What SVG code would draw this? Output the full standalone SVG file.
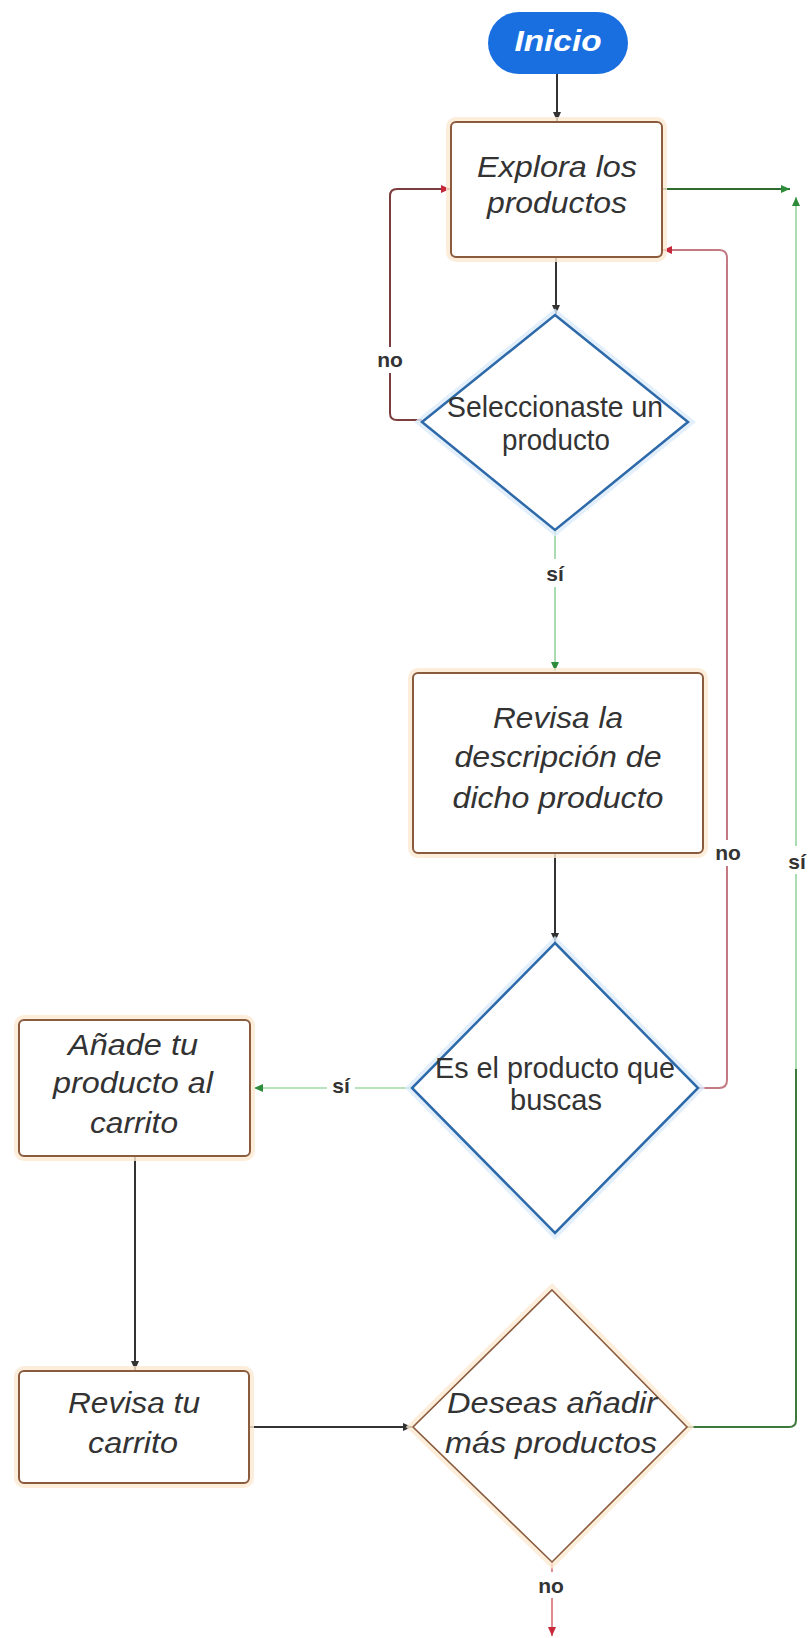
<svg xmlns="http://www.w3.org/2000/svg" width="811" height="1638" viewBox="0 0 811 1638">
  <style>
    .box{fill:#ffffff;stroke:#8a5b3d;stroke-width:2}
    .halo-o{fill:none;stroke:#fde9d2;stroke-width:10;opacity:.8}
    .halo-b{fill:none;stroke:#dcecfb;stroke-width:10;opacity:.8}
    .dia-b{fill:#ffffff;stroke:#2e6aa9;stroke-width:2.5}
    .dia-o{fill:#ffffff;stroke:#8a5b3d;stroke-width:1.6}
    .t{font-family:"Liberation Sans",Arial,sans-serif;font-size:29px;fill:#333333;text-anchor:middle}
    .ti{font-style:italic}
    .lbl{font-family:"Liberation Sans",Arial,sans-serif;font-size:21px;font-weight:bold;fill:#333333;text-anchor:middle}
    .c{fill:none;stroke-width:2}
    .dark{stroke:#333333}
  </style>
  <defs>
    <marker id="mk-dark" markerUnits="userSpaceOnUse" markerWidth="10" markerHeight="10" refX="9" refY="5" orient="auto">
      <path d="M0,1 L9,5 L0,9 z" fill="#333333"/>
    </marker>
    <marker id="mk-red" markerUnits="userSpaceOnUse" markerWidth="10" markerHeight="10" refX="9" refY="5" orient="auto">
      <path d="M0,1 L9,5 L0,9 z" fill="#c62839"/>
    </marker>
    <marker id="mk-green" markerUnits="userSpaceOnUse" markerWidth="10" markerHeight="10" refX="9" refY="5" orient="auto">
      <path d="M0,1 L9,5 L0,9 z" fill="#2e8b3a"/>
    </marker>
    <linearGradient id="g-si" gradientUnits="userSpaceOnUse" x1="0" y1="200" x2="0" y2="1430">
      <stop offset="0" stop-color="#a9dcb0"/>
      <stop offset="0.7065" stop-color="#a9dcb0"/>
      <stop offset="0.7065" stop-color="#3c7a3c"/>
      <stop offset="1" stop-color="#3c7a3c"/>
    </linearGradient>
  </defs>

  <g id="connectors">
    <path class="c dark" d="M557,74 V121" marker-end="url(#mk-dark)"/>
    <path class="c dark" d="M556,257 V314" marker-end="url(#mk-dark)"/>
    <path class="c" stroke="#7b3d3d" d="M422,420 H397 Q390,420 390,413 V196 Q390,189 397,189 H450" marker-end="url(#mk-red)"/>
    <path class="c" stroke="#a9dcb0" stroke-width="1.5" d="M555,530 V671" marker-end="url(#mk-green)"/>
    <path class="c dark" d="M555,853 V942" marker-end="url(#mk-dark)"/>
    <path class="c" stroke="#c47a82" stroke-width="1.6" d="M698,1088 H719 Q727,1088 727,1080 V258 Q727,250 719,250 H663" marker-end="url(#mk-red)"/>
    <path class="c" stroke="#b9e2be" stroke-width="1.5" d="M412,1088 H254" marker-end="url(#mk-green)"/>
    <path class="c dark" d="M135,1156 V1370" marker-end="url(#mk-dark)"/>
    <path class="c dark" d="M249,1427 H412" marker-end="url(#mk-dark)"/>
    <path class="c" stroke="url(#g-si)" d="M687,1427 H789 Q796,1427 796,1420 V197" marker-end="url(#mk-green)"/>
    <path class="c" stroke="#2f6b2f" d="M662,189 H790" marker-end="url(#mk-green)"/>
    <path class="c" stroke="#e08a92" stroke-width="1.5" d="M552,1562 V1636" marker-end="url(#mk-red)"/>

    <rect x="376" y="347" width="29" height="26" fill="#ffffff"/>
    <text class="lbl" x="390" y="367">no</text>
    <rect x="541" y="559" width="28" height="28" fill="#ffffff"/>
    <text class="lbl" x="555" y="581">sí</text>
    <rect x="712" y="840" width="31" height="26" fill="#ffffff"/>
    <text class="lbl" x="728" y="860">no</text>
    <rect x="783" y="846" width="28" height="28" fill="#ffffff"/>
    <text class="lbl" x="797" y="869">sí</text>
    <rect x="327" y="1071" width="28" height="28" fill="#ffffff"/>
    <text class="lbl" x="341" y="1093">sí</text>
    <rect x="536" y="1572" width="31" height="26" fill="#ffffff"/>
    <text class="lbl" x="551" y="1593">no</text>
  </g>

  <g id="inicio">
    <rect x="488" y="12" width="140" height="62" rx="31" fill="#1a6fe0"/>
    <text x="558" y="51" font-family="Liberation Sans, Arial, sans-serif" font-size="30" font-weight="bold" font-style="italic" fill="#ffffff" text-anchor="middle" textLength="87" lengthAdjust="spacingAndGlyphs">Inicio</text>
  </g>

  <g id="explora">
    <rect class="halo-o" x="451" y="122" width="211" height="135" rx="5"/>
    <rect class="box" x="451" y="122" width="211" height="135" rx="5"/>
    <text class="t ti" x="557" y="177" textLength="160" lengthAdjust="spacingAndGlyphs">Explora los</text>
    <text class="t ti" x="557" y="213" textLength="140" lengthAdjust="spacingAndGlyphs">productos</text>
  </g>

  <g id="seleccionaste">
    <polygon class="halo-b" points="555,315 688,422 555,530 422,422"/>
    <polygon class="dia-b" points="555,315 688,422 555,530 422,422"/>
    <text class="t" x="555" y="417" textLength="216" lengthAdjust="spacingAndGlyphs">Seleccionaste un</text>
    <text class="t" x="556" y="450" textLength="108" lengthAdjust="spacingAndGlyphs">producto</text>
  </g>

  <g id="revisa-descripcion">
    <rect class="halo-o" x="413" y="673" width="290" height="180" rx="5"/>
    <rect class="box" x="413" y="673" width="290" height="180" rx="5"/>
    <text class="t ti" x="558" y="728" textLength="130" lengthAdjust="spacingAndGlyphs">Revisa la</text>
    <text class="t ti" x="558" y="767" textLength="207" lengthAdjust="spacingAndGlyphs">descripción de</text>
    <text class="t ti" x="558" y="808" textLength="211" lengthAdjust="spacingAndGlyphs">dicho producto</text>
  </g>

  <g id="es-el-producto">
    <polygon class="halo-b" points="555,943 698,1088 555,1233 412,1088"/>
    <polygon class="dia-b" points="555,943 698,1088 555,1233 412,1088"/>
    <text class="t" x="555" y="1078" textLength="240" lengthAdjust="spacingAndGlyphs">Es el producto que</text>
    <text class="t" x="556" y="1110" textLength="92" lengthAdjust="spacingAndGlyphs">buscas</text>
  </g>

  <g id="anade">
    <rect class="halo-o" x="19" y="1020" width="231" height="136" rx="5"/>
    <rect class="box" x="19" y="1020" width="231" height="136" rx="5"/>
    <text class="t ti" x="133" y="1055" textLength="130" lengthAdjust="spacingAndGlyphs">Añade tu</text>
    <text class="t ti" x="133" y="1093" textLength="160" lengthAdjust="spacingAndGlyphs">producto al</text>
    <text class="t ti" x="134" y="1133" textLength="88" lengthAdjust="spacingAndGlyphs">carrito</text>
  </g>

  <g id="revisa-carrito">
    <rect class="halo-o" x="19" y="1371" width="230" height="112" rx="5"/>
    <rect class="box" x="19" y="1371" width="230" height="112" rx="5"/>
    <text class="t ti" x="134" y="1413" textLength="132" lengthAdjust="spacingAndGlyphs">Revisa tu</text>
    <text class="t ti" x="133" y="1453" textLength="90" lengthAdjust="spacingAndGlyphs">carrito</text>
  </g>

  <g id="deseas">
    <polygon class="halo-o" points="552,1290 687,1427 552,1562 413,1427"/>
    <polygon class="dia-o" points="552,1290 687,1427 552,1562 413,1427"/>
    <text class="t ti" x="552" y="1413" textLength="210" lengthAdjust="spacingAndGlyphs">Deseas añadir</text>
    <text class="t ti" x="551" y="1453" textLength="212" lengthAdjust="spacingAndGlyphs">más productos</text>
  </g>
</svg>
